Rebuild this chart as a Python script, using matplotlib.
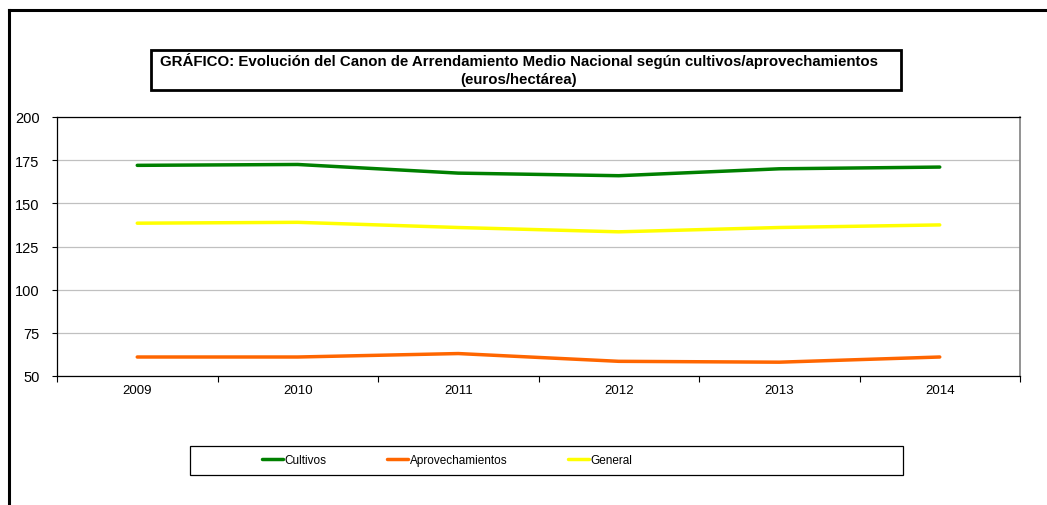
import matplotlib
matplotlib.use("Agg")
import matplotlib.pyplot as plt
from matplotlib.patches import Rectangle
from matplotlib.lines import Line2D

years = ["2009", "2010", "2011", "2012", "2013", "2014"]
cultivos = [172.0, 172.5, 167.5, 166.0, 170.0, 171.0]
aprovechamientos = [61.0, 61.0, 63.0, 58.5, 58.0, 61.0]
general = [138.5, 139.0, 136.0, 133.5, 136.0, 137.5]
series_names = ["Cultivos", "Aprovechamientos", "General"]
series_colors = ["#008000", "#FF6600", "#FFFF00"]
yticks = [50, 75, 100, 125, 150, 175, 200]

plt.rcParams['font.family'] = ['Liberation Sans', 'DejaVu Sans']

W, H = 1047, 506
fig = plt.figure(figsize=(W / 100, H / 100), dpi=100)

def fx(px):
    return px / W

def fy(py):
    return 1 - py / H

# Outer border (left and top)
fig.add_artist(Line2D([fx(9), fx(9)], [fy(11), fy(506)], color="black", lw=2.2, transform=fig.transFigure))
fig.add_artist(Line2D([fx(9), fx(1047)], [fy(11), fy(11)], color="black", lw=2.2, transform=fig.transFigure))

ax = fig.add_axes([fx(57), fy(377), fx(1020) - fx(57), fy(118) - fy(377)])
x = list(range(len(years)))
for vals, name, col in zip([cultivos, aprovechamientos, general], series_names, series_colors):
    ax.plot(x, vals, color=col, lw=2.5, solid_capstyle="round", label=name, zorder=3)

ax.set_xlim(-0.5, len(years) - 0.5)
ax.set_ylim(50, 200)
ax.set_yticks(yticks)
ax.set_yticklabels([str(v) for v in yticks], fontsize=10.5)
ax.yaxis.grid(True, color="#C0C0C0", lw=0.9)
ax.set_axisbelow(True)
ax.tick_params(axis="y", length=3.5, width=0.8, direction="out", pad=9, colors="black")
ax.set_xticks([i - 0.5 for i in range(len(years) + 1)])
ax.set_xticklabels([])
ax.tick_params(axis="x", which="major", length=4, width=0.8, direction="out")
ax.set_xticks(x, minor=True)
ax.set_xticklabels(years, minor=True, fontsize=9.5)
ax.tick_params(axis="x", which="minor", length=0, pad=6)
for s in ["left", "bottom", "top"]:
    ax.spines[s].set_color("black")
    ax.spines[s].set_linewidth(0.9)
ax.spines["right"].set_color("#808080")
ax.spines["right"].set_linewidth(1.2)

# Title box
fig.add_artist(Rectangle((fx(151), fy(91)), fx(901) - fx(151), fy(51) - fy(91),
                         transform=fig.transFigure, fill=False, edgecolor="black", lw=2.0))
fig.text(fx(519), fy(61), "GRÁFICO: Evolución del Canon de Arrendamiento Medio Nacional según cultivos/aprovechamientos",
         ha="center", va="center", fontsize=10.8, fontweight="bold")
fig.text(fx(519), fy(80), "(euros/hectárea)", ha="center", va="center", fontsize=10.8, fontweight="bold")

# Legend box
fig.add_artist(Rectangle((fx(190), fy(476)), fx(903) - fx(190), fy(447) - fy(476),
                         transform=fig.transFigure, fill=False, edgecolor="black", lw=0.9))
handles, labels = ax.get_legend_handles_labels()
leg = fig.legend(handles, labels, ncol=3, frameon=False, loc="center left",
                 bbox_to_anchor=(fx(257), fy(461)), fontsize=8.5,
                 handlelength=1.8, handletextpad=0.15, columnspacing=5.1, borderaxespad=0)

fig.savefig("out.png", dpi=100, facecolor="white")
